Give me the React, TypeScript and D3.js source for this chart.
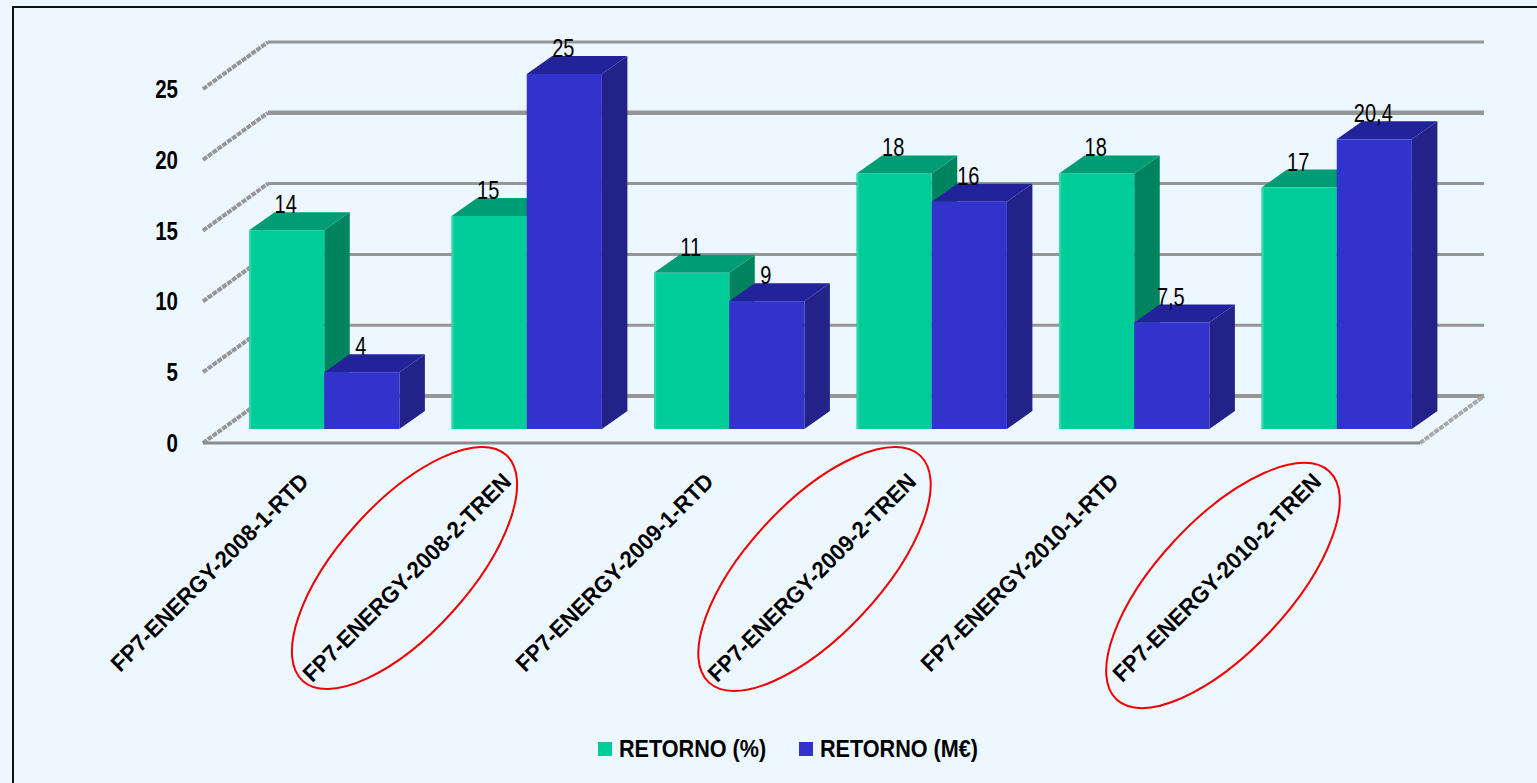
import React from "react";
import * as d3 from "d3";

const categories = ["FP7-ENERGY-2008-1-RTD", "FP7-ENERGY-2008-2-TREN", "FP7-ENERGY-2009-1-RTD", "FP7-ENERGY-2009-2-TREN", "FP7-ENERGY-2010-1-RTD", "FP7-ENERGY-2010-2-TREN"];
const retornoPct = [14, 15, 11, 18, 18, 17];
const retornoMeur = [4, 25, 9, 16, 7.5, 20.4];
const pctLabels = ["14", "15", "11", "18", "18", "17"];
const meurLabels = ["4", "25", "9", "16", "7,5", "20,4"];
const yTicks = [0, 5, 10, 15, 20, 25];
const seriesNames = ["RETORNO (%)", "RETORNO (M€)"];

const W = 1537, H = 783;
const FONT = "'Liberation Sans', Arial, sans-serif";
const BG = "#ECF7FF";
const GREEN = { front: "#00CC99", top: "#009C75", side: "#00835F" };
const BLUE = { front: "#3333CC", top: "#24249A", side: "#212188" };
const GRID = "#969696";
const floorFront = 443, wallDx = 65, wallDy = -47;
const barBase = 429, barDx = 25.5, barDy = -18;

const ellipses = [
  { cx: 404.5, cy: 568, rx: 152, ry: 65, rot: -48 },
  { cx: 814.5, cy: 569, rx: 155, ry: 66, rot: -47 },
  { cx: 1223, cy: 585.5, rx: 156, ry: 66, rot: -47 },
];

export default function App() {
  const x0 = d3.scaleBand<string>().domain(categories).range([223, 1438]).paddingInner(0.258).paddingOuter(0.129);
  const x1 = d3.scaleBand<string>().domain(seriesNames).range([0, x0.bandwidth()]);
  const yBar = d3.scaleLinear().domain([0, 25]).range([barBase, barBase - 355]);
  const yFront = d3.scaleLinear().domain([0, 25]).range([floorFront, floorFront - 354]);

  const bars: React.ReactNode[] = [];
  const valueLabels: React.ReactNode[] = [];
  categories.forEach((c, i) => {
    [retornoPct[i], retornoMeur[i]].forEach((v, s) => {
      const col = s === 0 ? GREEN : BLUE;
      const x = (x0(c) as number) + (x1(seriesNames[s]) as number);
      const w = x1.bandwidth();
      const t = yBar(v);
      const topPts = [[x, t], [x + barDx, t + barDy], [x + w + barDx, t + barDy], [x + w, t]];
      const sidePts = [[x + w, t], [x + w + barDx, t + barDy], [x + w + barDx, barBase + barDy], [x + w, barBase]];
      const lab = s === 0 ? pctLabels[i] : meurLabels[i];
      bars.push(
        <g key={`${i}-${s}`}>
          <polygon points={sidePts.join(" ")} fill={col.side} />
          <polygon points={topPts.join(" ")} fill={col.top} />
          <rect x={x} y={t} width={w} height={barBase - t} fill={col.front} />
          {s === 0 && <rect x={x} y={t} width={2} height={barBase - t} fill="#2FD8AE" />}
        </g>
      );
      valueLabels.push(
        <text key={`${i}-${s}`} transform={`translate(${x + w / 2 - 1},${t + barDy + 1}) scale(0.8,1)`} textAnchor="middle" fontSize={25} fontFamily={FONT} fill="#000">{lab}</text>
      );
    });
  });

  return (
    <svg width={W} height={H} style={{ position: "fixed", left: 0, top: 0, background: BG }}>
      <defs>
        <filter id="soft" x="-2%" y="-2%" width="104%" height="104%">
          <feGaussianBlur stdDeviation="0.45" />
        </filter>
      </defs>
      <rect x={13} y={7} width={W + 20} height={H + 20} fill={BG} stroke="#111" strokeWidth={2} />
      <g filter="url(#soft)">
        {yTicks.map((t) => {
          const fy = yFront(t);
          return (
            <g key={t}>
              <line x1={203} y1={fy} x2={203 + wallDx} y2={fy + wallDy} stroke={GRID} strokeWidth={4} strokeDasharray="5 1" />
              <line x1={203 + wallDx} y1={fy + wallDy} x2={1484} y2={fy + wallDy} stroke={GRID} strokeWidth={t === 20 ? 4.5 : t === 0 ? 4 : 3} />
            </g>
          );
        })}
        <line x1={1420} y1={floorFront} x2={1484} y2={floorFront + wallDy} stroke="#A8A8A8" strokeWidth={4} strokeDasharray="5 1" />
        <line x1={203} y1={floorFront} x2={1420} y2={floorFront} stroke="#8C8C8C" strokeWidth={3} />
        {bars}
      </g>
      {yTicks.map((t) => (
        <text key={t} transform={`translate(178,${yFront(t) + 9}) scale(0.82,1)`} textAnchor="end" fontSize={25} fontWeight="bold" fontFamily={FONT} fill="#000">{t}</text>
      ))}
      {valueLabels}
      {categories.map((c) => {
        const px = (x0(c) as number) + 61;
        return (
          <text key={c} transform={`translate(${px},483) rotate(-45) scale(0.96,1)`} textAnchor="end" fontSize={23} fontWeight="bold" fontFamily={FONT} fill="#000">{c}</text>
        );
      })}
      {ellipses.map((e, i) => (
        <ellipse key={i} cx={0} cy={0} rx={e.rx} ry={e.ry} transform={`translate(${e.cx},${e.cy}) rotate(${e.rot})`} fill="none" stroke="#F00000" strokeWidth={2} />
      ))}
      <rect x={598} y={742} width={14} height={14} fill={GREEN.front} />
      <text transform="translate(619,757) scale(0.9,1)" fontSize={24} fontWeight="bold" fontFamily={FONT} fill="#000">{seriesNames[0]}</text>
      <rect x={799} y={742} width={14} height={14} fill={BLUE.front} />
      <text transform="translate(820,757) scale(0.9,1)" fontSize={24} fontWeight="bold" fontFamily={FONT} fill="#000">{seriesNames[1]}</text>
    </svg>
  );
}
